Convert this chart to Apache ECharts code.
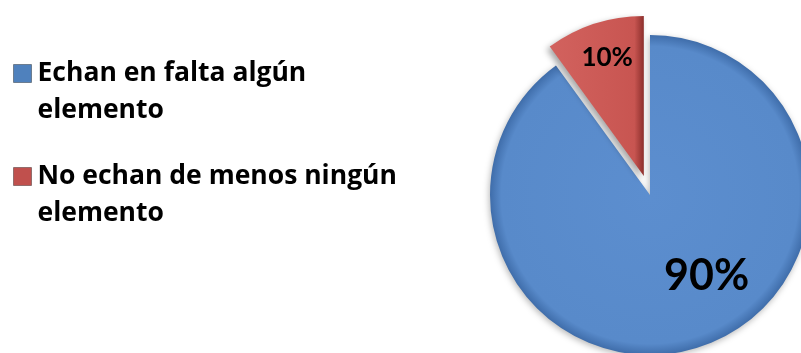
<!DOCTYPE html>
<html>
<head>
<meta charset="utf-8">
<style>
  html, body { margin: 0; padding: 0; background: #ffffff; }
  #chart { width: 801px; height: 353px; }
</style>
<script src="https://cdn.jsdelivr.net/npm/echarts@6/dist/echarts.min.js"></script>
</head>
<body>
<div id="chart"></div>
<script>
// Survey answers and their shares (percent)
const categories = ['Echan en falta algún elemento', 'No echan de menos ningún elemento'];
const legendLines = [['Echan en falta algún', 'elemento'], ['No echan de menos ningún', 'elemento']];
const values = [90, 10];
const percentLabels = ['90%', '10%'];

const FONT = 'Lato, "Open Sans", "Liberation Sans", sans-serif';
const LEGEND_FONT = '"Open Sans", Lato, "Liberation Sans", sans-serif';
const baseColors = ['#4F81BD', '#C0504D'];

const sliceStyles = [
  {
    color: {
      type: 'radial', x: 0.5, y: 0.5, r: 0.5,
      colorStops: [
        { offset: 0, color: '#5C8ECF' },
        { offset: 0.93, color: '#588ACA' },
        { offset: 1, color: '#3F6DAA' }
      ]
    },
    shadowColor: 'rgba(0,0,0,0.28)', shadowBlur: 6, shadowOffsetX: -1, shadowOffsetY: 2
  },
  {
    color: {
      type: 'linear', x: 0, y: 0, x2: 1, y2: 0,
      colorStops: [
        { offset: 0, color: '#D2625E' },
        { offset: 0.9, color: '#C85551' },
        { offset: 1, color: '#8C2F2C' }
      ]
    },
    shadowColor: 'rgba(0,0,0,0.35)', shadowBlur: 6, shadowOffsetX: -3, shadowOffsetY: 3
  }
];

const pieData = categories.map((name, i) => ({
  name: name,
  value: values[i],
  selected: i === 1,
  itemStyle: sliceStyles[i],
  label: {
    formatter: percentLabels[i],
    fontSize: i === 0 ? 43 : 26
  }
}));

// Fine placement of the in-slice percentage labels
const labelShift = [[31, 2], [-11, -39]];

// An empty first line keeps the square level with the first text line
function makeLegend(i, top) {
  return {
    orient: 'vertical',
    left: 13,
    top: top,
    padding: 0,
    itemWidth: 18,
    itemHeight: 18,
    icon: 'rect',
    selectedMode: false,
    data: [{
      name: categories[i],
      itemStyle: { color: baseColors[i], borderColor: 'rgba(0,0,0,0.35)', borderWidth: 1 }
    }],
    formatter: () => '\n' + legendLines[i].join('\n'),
    textStyle: {
      fontFamily: LEGEND_FONT,
      fontWeight: 'bold',
      fontSize: 26.5,
      lineHeight: 37,
      color: '#000000',
      padding: [0, 0, 0, 1]
    }
  };
}

const chart = echarts.init(document.getElementById('chart'), null, { renderer: 'canvas' });
chart.setOption({
  animation: false,
  backgroundColor: '#ffffff',
  legend: [makeLegend(0, 18), makeLegend(1, 121)],
  series: [{
    type: 'pie',
    center: [650, 195],
    radius: 160,
    startAngle: 90,
    clockwise: true,
    selectedMode: 'single',
    selectedOffset: 20,
    emphasis: { disabled: true },
    label: {
      show: true,
      position: 'inside',
      fontFamily: FONT,
      fontWeight: 'bold',
      color: '#000000'
    },
    labelLine: { show: false },
    labelLayout: (params) => ({ dx: labelShift[params.dataIndex][0], dy: labelShift[params.dataIndex][1] }),
    data: pieData
  }]
});
</script>
</body>
</html>
